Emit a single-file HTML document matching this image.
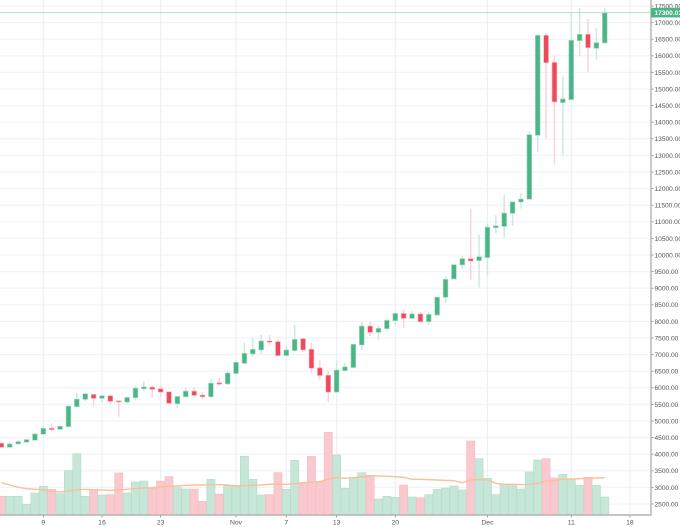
<!DOCTYPE html>
<html>
<head>
<meta charset="utf-8">
<title>Price chart</title>
<style>
html,body{margin:0;padding:0;background:#fff;width:680px;height:527px;overflow:hidden}
svg{display:block}
text{font-family:"Liberation Sans",sans-serif}
</style>
</head>
<body>
<svg id="chart" xmlns="http://www.w3.org/2000/svg" width="680" height="527" viewBox="0 0 680 527">
  <g id="blurred" style="filter:blur(0.3px)">
    <g id="grid"></g>
    <g id="volumes"></g>
    <polyline id="ma" fill="none" stroke="#f8c197" stroke-width="1.4"></polyline>
    <g id="candles"></g>
    <line id="lastLine" x1="0" x2="651" stroke="#a5e3cc" stroke-width="1"></line>
    <g id="axes"></g>
  </g>
</svg>
<script>
const startDate = '2017-10-04';
const opens = [4330,4210,4310,4360,4420,4600,4780,4750,4830,5430,5650,5800,5680,5760,5610,5570,5700,5970,6020,5970,5880,5520,5730,5900,5780,5730,6150,6115,
6430,6737,7020,7140,7410,7390,6970,7120,7480,7160,6600,6380,5870,6516,6610,7290,7860,7670,7780,8020,8240,8090,8225,7990,8190,8725,9277,9700,9890,9830,
9920,10820,10860,11255,11596,11680,13605,16617,15800,14590,14680,16456,16647,16225,16386];
const closes = [4210,4310,4380,4440,4610,4780,4740,4840,5450,5660,5820,5680,5760,5590,5580,5710,5990,6030,5950,5870,5530,5740,5900,5770,5730,6140,6110,6446,
6768,7040,7160,7410,7370,6970,7140,7460,7140,6590,6370,5870,6535,6630,7310,7860,7670,7790,8030,8240,8090,8225,7990,8210,8730,9267,9709,9890,9820,9950,
10840,10880,11265,11600,11685,13625,16617,15790,14610,14700,16466,16647,16245,16396,17300];
const highs = [4350,4340,4420,4450,4630,4860,4930,4870,5460,5850,5830,5820,5800,5790,5620,5730,6060,6200,6060,6060,5890,5750,5990,6000,5870,6260,6290,6530,
6790,7370,7500,7590,7590,7450,7240,7890,7510,7360,6830,6500,6800,6760,7330,7990,8000,7870,8090,8270,8360,8310,8290,8300,8740,9370,9720,9970,11400,10620,
10950,11200,11810,11620,11860,13710,16640,16680,16000,15380,17320,17440,17110,16830,17440];
const lows = [4200,4180,4290,4350,4410,4590,4700,4730,4820,5410,5600,5430,5570,5520,5130,5530,5620,5900,5710,5730,5500,5390,5700,5710,5660,5700,6050,6090,
6390,6710,6940,7000,7300,6950,6950,7090,7080,6450,6240,5570,5860,6510,6590,7140,7560,7450,7700,7900,7800,8080,7970,7900,8180,8550,9270,9590,9250,9020,
9380,10660,10530,10880,11400,11680,13110,13500,12720,13000,14680,15980,15510,15880,16380];
const volumes = [.56,.56,.56,.32,.66,.86,.77,.64,1.33,1.84,.56,.77,.60,.61,1.26,.66,.99,1.02,.80,1.02,1.15,.82,.78,.78,.41,1.07,.63,.89,
.85,1.76,1.07,.60,.61,1.27,.77,1.64,.97,1.76,1.00,2.48,1.80,.80,1.12,1.27,1.19,.48,.56,.53,.90,.54,.52,.61,.77,.81,.87,.75,2.22,1.69,
1.10,.61,.92,.88,.78,1.29,1.65,1.69,1.11,1.22,1.07,.89,1.13,.89,.54];
const volumeMA = [.97,.90,.83,.79,.77,.75,.71,.69,.72,.76,.77,.76,.75,.74,.75,.77,.79,.81,.82,.84,.86,.87,.89,.90,.90,.91,.91,.90,
.87,.88,.89,.90,.92,.93,.92,.94,.97,.99,1.00,1.08,1.12,1.10,1.12,1.14,1.18,1.17,1.16,1.15,1.13,1.07,1.07,1.06,1.05,1.04,1.03,.97,1.05,1.06,
1.05,.95,.92,.92,.91,.92,.95,1.02,1.03,1.07,1.08,1.09,1.10,1.11,1.12];
const priceTicks = [2500,3000,3500,4000,4500,5000,5500,6000,6500,7000,7500,8000,8500,9000,9500,10000,10500,11000,11500,12000,12500,13000,13500,14000,14500,15000,15500,16000,16500,17000,17500];
const timeTickDates = ['2017-10-09','2017-10-16','2017-10-23','2017-11-01','2017-11-07','2017-11-13','2017-11-20','2017-12-01','2017-12-11','2017-12-18'];
const timeTickLabels = ['9','16','23','Nov','7','13','20','Dec','11','18'];
const lastPrice = 17300.03;

const NS = 'http://www.w3.org/2000/svg';
const PLOT_RIGHT = 651, PLOT_BOTTOM = 515;
const dayMs = 86400000;
function xOfIndex(i){ return 1.4 + i * 8.38; }
function xOfDate(d){ return xOfIndex((Date.parse(d) - Date.parse(startDate)) / dayMs); }
function yOfPrice(p){ return 6 + (17500 - p) * 0.0332; }
function yOfVolume(v){ return PLOT_BOTTOM - v * 100 / 3; }
function make(tag, attrs, parent){
  const el = document.createElementNS(NS, tag);
  for (const k in attrs) el.setAttribute(k, attrs[k]);
  parent.appendChild(el);
  return el;
}
const grid = document.getElementById('grid');
const axes = document.getElementById('axes');
const volG = document.getElementById('volumes');
const candleG = document.getElementById('candles');

priceTicks.forEach(function(p){
  const y = yOfPrice(p);
  const gl = make('line', {x1:0, x2:PLOT_RIGHT, y1:y, y2:y, stroke:'#f0f4f8', 'stroke-width':1.3}, grid);
  
  
  const tk = make('line', {x1:PLOT_RIGHT, x2:PLOT_RIGHT+2.5, y1:y, y2:y, stroke:'#888', 'stroke-width':0.8}, axes);
  
  
  const t = make('text', {x:654.5, y:y+2.4, 'font-size':6.6, fill:'#555555'}, axes);
  
  
  t.textContent = p.toFixed(2);
});
timeTickDates.forEach(function(d, i){
  const x = xOfDate(d);
  const gl = make('line', {x1:x, x2:x, y1:0, y2:PLOT_BOTTOM, stroke:'#e9f0f5', 'stroke-width':1.1}, grid);
  
  
  const tk = make('line', {x1:x, x2:x, y1:PLOT_BOTTOM, y2:PLOT_BOTTOM+2.5, stroke:'#888', 'stroke-width':0.8}, axes);
  
  
  const t = make('text', {x:x, y:524.3, 'font-size':6.8, fill:'#555555', 'text-anchor':'middle'}, axes);
  
  
  t.textContent = timeTickLabels[i];
});

volumes.forEach(function(v, i){
  const up = closes[i] >= opens[i];
  const x = xOfIndex(i);
  const y = yOfVolume(v);
  const r = make('rect', {x:x-4.1, y:y, width:8.2, height:PLOT_BOTTOM-y,
    fill: up ? '#c6e6d7' : '#f9c9cf', stroke: up ? '#b5dcc9' : '#f6bcc4', 'stroke-width':0.6}, volG);
  
  
});

document.getElementById('ma').setAttribute('points',
  volumeMA.map(function(v, i){ return xOfIndex(i).toFixed(1) + ',' + yOfVolume(v).toFixed(1); }).join(' '));

opens.forEach(function(o, i){
  const c = closes[i];
  const up = c >= o;
  const x = xOfIndex(i);
  const w = make('line', {x1:x, x2:x, y1:yOfPrice(highs[i]), y2:yOfPrice(lows[i]),
    stroke: up ? '#cfe9dd' : '#fbd3d9', 'stroke-width':1.5}, candleG);
  
  
  const top = yOfPrice(Math.max(o, c));
  const bot = yOfPrice(Math.min(o, c));
  const b = make('rect', {x:x-2.4, y:top, width:4.8, height:Math.max(bot-top, 1.2),
    fill: up ? '#4bb587' : '#ee4a5e', stroke: up ? '#a9dcc4' : '#f8aeb8', 'stroke-width':0.6}, candleG);
  
  
});

const ll = document.getElementById('lastLine');
ll.setAttribute('y1', yOfPrice(lastPrice));
ll.setAttribute('y2', yOfPrice(lastPrice));

const axY = make('line', {x1:PLOT_RIGHT, x2:PLOT_RIGHT, y1:0, y2:PLOT_BOTTOM+0.7, stroke:'#b4b4b4', 'stroke-width':1.4}, axes);


const axX = make('line', {x1:0, x2:PLOT_RIGHT, y1:PLOT_BOTTOM, y2:PLOT_BOTTOM, stroke:'#b4b4b4', 'stroke-width':1.4}, axes);



const tagY = yOfPrice(lastPrice);
const tag = make('rect', {x:PLOT_RIGHT, y:tagY-4.8, width:29, height:9.6, fill:'#4bb587'}, axes);


const tagT = make('text', {x:654.5, y:tagY+2.4, 'font-size':6.6, fill:'#ffffff', 'font-weight':'bold'}, axes);


tagT.textContent = lastPrice.toFixed(2);
</script>
</body>
</html>
